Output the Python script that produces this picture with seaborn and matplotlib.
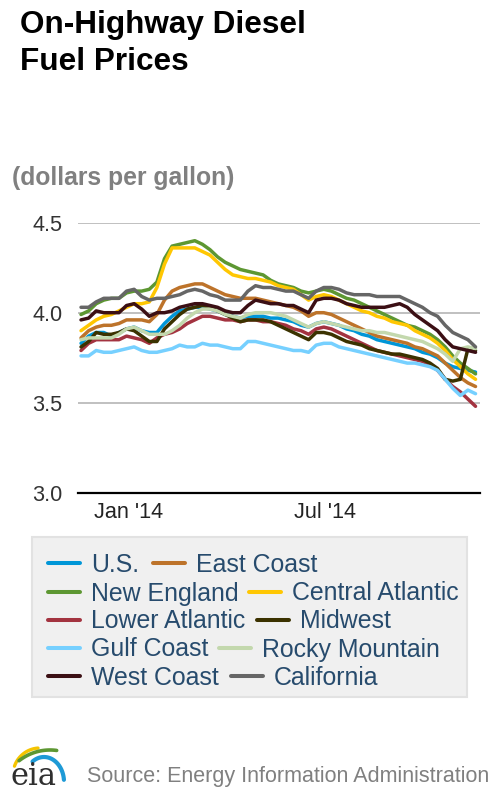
import numpy as np
import pandas as pd
import matplotlib
matplotlib.use('Agg')
import matplotlib.pyplot as plt
from matplotlib.lines import Line2D
from matplotlib.patches import Rectangle
import seaborn as sns

# Weekly on-highway diesel retail prices (dollars per gallon)
weeks = pd.date_range('2013-11-18', '2014-11-17', freq='7D')

us = [3.83, 3.87, 3.89, 3.89, 3.87, 3.89, 3.91, 3.92, 3.90, 3.89,
      3.89, 3.94, 3.98, 4.01, 4.02, 4.03, 4.03, 4.02, 4.01, 3.99,
      3.98, 3.97, 3.98, 3.98, 3.98, 3.97, 3.97, 3.96, 3.95, 3.93,
      3.92, 3.94, 3.95, 3.94, 3.93, 3.91, 3.90, 3.88, 3.87, 3.85,
      3.84, 3.83, 3.82, 3.81, 3.80, 3.78, 3.77, 3.75, 3.72, 3.70,
      3.69, 3.68, 3.67]
east_coast = [3.86, 3.90, 3.92, 3.93, 3.93, 3.94, 3.96, 3.96, 3.96, 3.95,
              3.99, 4.07, 4.12, 4.14, 4.15, 4.16, 4.16, 4.14, 4.12, 4.10,
              4.09, 4.08, 4.08, 4.08, 4.07, 4.06, 4.05, 4.04, 4.03, 4.01,
              3.98, 4.00, 4.00, 3.99, 3.97, 3.95, 3.93, 3.91, 3.89, 3.87,
              3.86, 3.85, 3.84, 3.83, 3.81, 3.80, 3.78, 3.76, 3.72, 3.68,
              3.64, 3.61, 3.59]
new_england = [3.99, 4.01, 4.05, 4.07, 4.08, 4.08, 4.11, 4.12, 4.12, 4.13,
               4.17, 4.30, 4.37, 4.38, 4.39, 4.40, 4.38, 4.35, 4.31, 4.28,
               4.26, 4.24, 4.23, 4.22, 4.21, 4.18, 4.16, 4.15, 4.14, 4.12,
               4.11, 4.12, 4.13, 4.12, 4.10, 4.08, 4.07, 4.05, 4.03, 4.01,
               3.99, 3.97, 3.95, 3.93, 3.92, 3.90, 3.88, 3.85, 3.81, 3.76,
               3.72, 3.69, 3.66]
central_atlantic = [3.90, 3.93, 3.96, 3.98, 3.99, 4.01, 4.03, 4.05, 4.05, 4.06,
                    4.14, 4.27, 4.36, 4.36, 4.36, 4.36, 4.34, 4.32, 4.28, 4.24,
                    4.21, 4.20, 4.19, 4.19, 4.18, 4.17, 4.15, 4.14, 4.13, 4.10,
                    4.07, 4.09, 4.10, 4.09, 4.07, 4.05, 4.03, 4.01, 4.00, 3.98,
                    3.97, 3.95, 3.94, 3.93, 3.90, 3.88, 3.86, 3.83, 3.79, 3.74,
                    3.70, 3.66, 3.63]
lower_atlantic = [3.79, 3.83, 3.85, 3.85, 3.85, 3.85, 3.87, 3.86, 3.85, 3.83,
                  3.86, 3.88, 3.89, 3.91, 3.94, 3.96, 3.98, 3.98, 3.97, 3.96,
                  3.96, 3.95, 3.96, 3.96, 3.95, 3.95, 3.94, 3.93, 3.91, 3.90,
                  3.88, 3.91, 3.92, 3.91, 3.89, 3.87, 3.85, 3.83, 3.81, 3.79,
                  3.78, 3.77, 3.76, 3.75, 3.74, 3.73, 3.71, 3.68, 3.63, 3.59,
                  3.56, 3.52, 3.48]
midwest = [3.81, 3.84, 3.89, 3.88, 3.88, 3.89, 3.91, 3.90, 3.87, 3.84,
           3.84, 3.91, 3.95, 3.99, 4.02, 4.03, 4.04, 4.03, 4.01, 3.99,
           3.97, 3.95, 3.96, 3.96, 3.96, 3.95, 3.93, 3.91, 3.89, 3.87,
           3.85, 3.89, 3.89, 3.88, 3.86, 3.84, 3.83, 3.82, 3.80, 3.79,
           3.78, 3.77, 3.77, 3.76, 3.75, 3.74, 3.72, 3.69, 3.63, 3.62,
           3.63, 3.80, 3.79]
gulf_coast = [3.76, 3.76, 3.79, 3.78, 3.78, 3.79, 3.80, 3.81, 3.79, 3.78,
              3.78, 3.79, 3.80, 3.82, 3.81, 3.81, 3.83, 3.82, 3.82, 3.81,
              3.80, 3.80, 3.84, 3.84, 3.83, 3.82, 3.81, 3.80, 3.79, 3.79,
              3.78, 3.82, 3.83, 3.83, 3.81, 3.80, 3.79, 3.78, 3.77, 3.76,
              3.75, 3.74, 3.73, 3.72, 3.72, 3.71, 3.70, 3.68, 3.63, 3.58,
              3.54, 3.57, 3.55]
rocky_mountain = [3.85, 3.86, 3.86, 3.86, 3.86, 3.88, 3.91, 3.92, 3.90, 3.88,
                  3.88, 3.88, 3.90, 3.93, 3.97, 4.00, 4.02, 4.02, 4.01, 3.99,
                  3.98, 3.97, 3.99, 4.00, 4.00, 4.00, 3.99, 3.98, 3.96, 3.94,
                  3.92, 3.94, 3.95, 3.94, 3.93, 3.92, 3.91, 3.90, 3.90, 3.89,
                  3.89, 3.88, 3.87, 3.86, 3.85, 3.84, 3.82, 3.80, 3.77, 3.73,
                  3.80, 3.81, 3.80]
west_coast = [3.96, 3.97, 4.01, 4.00, 4.00, 4.00, 4.04, 4.05, 4.02, 3.98,
              4.00, 4.00, 4.01, 4.03, 4.04, 4.05, 4.05, 4.04, 4.03, 4.01,
              4.00, 4.00, 4.04, 4.07, 4.06, 4.05, 4.05, 4.04, 4.04, 4.02,
              4.00, 4.07, 4.08, 4.08, 4.07, 4.05, 4.04, 4.03, 4.03, 4.03,
              4.03, 4.04, 4.05, 4.03, 3.99, 3.96, 3.93, 3.90, 3.85, 3.81,
              3.80, 3.79, 3.78]
california = [4.03, 4.03, 4.06, 4.08, 4.08, 4.08, 4.12, 4.13, 4.09, 4.07,
              4.08, 4.08, 4.09, 4.10, 4.12, 4.13, 4.12, 4.10, 4.09, 4.07,
              4.07, 4.07, 4.12, 4.15, 4.14, 4.14, 4.13, 4.12, 4.12, 4.10,
              4.08, 4.12, 4.14, 4.14, 4.13, 4.11, 4.10, 4.10, 4.10, 4.09,
              4.09, 4.09, 4.09, 4.07, 4.05, 4.03, 4.00, 3.98, 3.93, 3.89,
              3.87, 3.85, 3.81]

regions = ['U.S.', 'East Coast', 'New England', 'Central Atlantic',
           'Lower Atlantic', 'Midwest', 'Gulf Coast', 'Rocky Mountain',
           'West Coast', 'California']
colors = ['#0096d7', '#bd732a', '#5d9732', '#ffc702', '#a33340',
          '#3b3200', '#76d0ff', '#c3d8ad', '#3b0f14', '#666666']

tick_dates = ['2014-01-01', '2014-07-01']
tick_labels = ["Jan '14", "Jul '14"]
y_ticks = [3.0, 3.5, 4.0, 4.5]

df = pd.DataFrame({'date': weeks, 'U.S.': us, 'East Coast': east_coast,
                   'New England': new_england, 'Central Atlantic': central_atlantic,
                   'Lower Atlantic': lower_atlantic, 'Midwest': midwest,
                   'Gulf Coast': gulf_coast, 'Rocky Mountain': rocky_mountain,
                   'West Coast': west_coast, 'California': california})
long = df.melt(id_vars='date', var_name='region', value_name='price')
palette = dict(zip(regions, colors))

sns.set_style('white')
plt.rcParams['font.family'] = ['Liberation Sans', 'DejaVu Sans']

W, H = 500, 800
fig = plt.figure(figsize=(5, 8), dpi=100)


def fx(x):
    return x / W


def fy(y):
    return 1 - y / H


ax = fig.add_axes([fx(78), fy(492.7), fx(480) - fx(78), (492.7 - 222.7) / H])
sns.lineplot(data=long, x='date', y='price', hue='region', hue_order=regions,
             palette=palette, linewidth=2.5, legend=False, estimator=None,
             solid_joinstyle='round', solid_capstyle='round', ax=ax)

ax.set_ylim(3.0, 4.5)
ax.set_xlim(pd.Timestamp('2013-11-15 05:00'), pd.Timestamp('2014-11-21 03:00'))
ax.set_yticks(y_ticks)
ax.set_yticklabels(['%.1f' % v for v in y_ticks])
ax.set_xticks([pd.Timestamp(d) for d in tick_dates])
ax.set_xticklabels(tick_labels)
ax.set_xlabel('')
ax.set_ylabel('')
for v in y_ticks[1:]:
    ax.axhline(v, color='#c0c0c0', lw=1.4, zorder=0)
for s in ['left', 'right', 'top']:
    ax.spines[s].set_visible(False)
ax.spines['bottom'].set_color('black')
ax.spines['bottom'].set_linewidth(1.6)
ax.tick_params(axis='y', length=0, pad=11, labelsize=15.6, labelcolor='#333333')
ax.tick_params(axis='x', length=6.5, width=1.5, color='black', direction='out',
               pad=0, labelsize=15.6, labelcolor='#222222')
ax.set_facecolor('none')

# titles
fig.text(fx(20), fy(33), 'On-Highway Diesel', fontsize=22.7, weight='bold',
         color='black', va='baseline')
fig.text(fx(20), fy(70), 'Fuel Prices', fontsize=22.7, weight='bold',
         color='black', va='baseline')
fig.text(fx(12), fy(185), '(dollars per gallon)', fontsize=17.8, weight='bold',
         color='#808080', va='baseline')

# legend box with flowing two-per-row items
fig.patches.append(Rectangle((fx(32), fy(697)), (467 - 32) / W, (697 - 537) / H,
                             transform=fig.transFigure, facecolor='#f0f0f0',
                             edgecolor='#e2e2e2', lw=1.5, zorder=1))
row_y = [563.3, 592, 620, 648, 676.3]
col2_x = [153, 249, 257, 219, 231]
for i, name in enumerate(regions):
    row = i // 2
    hx = 48 if i % 2 == 0 else col2_x[row]
    y = row_y[row]
    fig.add_artist(Line2D([fx(hx), fx(hx + 32)], [fy(y), fy(y)],
                          transform=fig.transFigure, color=palette[name],
                          lw=2.9, zorder=2))
    fig.text(fx(hx + 43), fy(y + 8.5), name, fontsize=17.9, color='#274b6d',
             va='baseline', zorder=3)

# source line and eia logo
fig.text(fx(87), fy(782.3), 'Source: Energy Information Administration',
         fontsize=15.5, color='#808080', va='baseline')

lax = fig.add_axes([fx(5), fy(795), 65 / W, 55 / H])
lax.set_xlim(5, 70)
lax.set_ylim(795, 740)
lax.axis('off')
t = np.linspace(np.arctan2(-9, -26), np.arctan2(-27, -2), 40)
lax.plot(40 + 27 * np.cos(t), 775 + 27 * np.sin(t), color='#f5c400', lw=2.4,
         solid_capstyle='round')
t = np.linspace(np.arctan2(-38, -30), np.arctan2(-52, 7), 40)
lax.plot(50 + 50 * np.cos(t), 800 + 50 * np.sin(t), color='#5d9732', lw=2.6,
         solid_capstyle='round')
t = np.linspace(np.radians(-125), np.radians(-5), 40)
lax.plot(44 + 20 * np.cos(t), 782 + 25 * np.sin(t), color='#1e9ad6', lw=3.0,
         solid_capstyle='round')
lax.text(34, 784.5, 'eia', family=['DejaVu Serif'],
         fontsize=22, color='#2f2f2f', ha='center', va='baseline')

fig.savefig('out.png', dpi=100, facecolor='white')
